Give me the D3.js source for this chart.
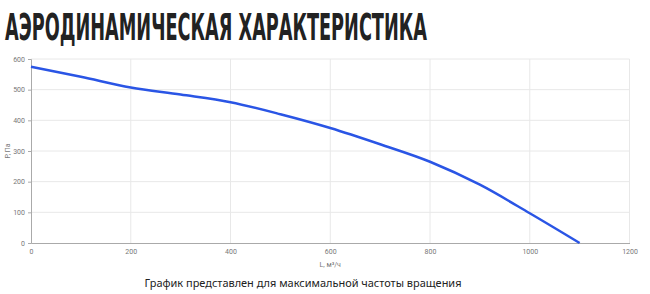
<!DOCTYPE html>
<html>
<head>
<meta charset="utf-8">
<script src="https://cdn.jsdelivr.net/npm/d3@7"></script>
<style>
  body { margin: 0; background: #fff; }
  svg { display: block; }
</style>
</head>
<body>
<svg id="chart" width="650" height="294"></svg>
<script>
// flow (m3/h) vs pressure (Pa)
const flow = [0, 100, 200, 300, 400, 500, 600, 700, 800, 900, 1000, 1100];
const pressure = [575, 542, 507, 484, 459, 420, 375, 322, 265, 190, 97, 0];
const xTicks = [0, 200, 400, 600, 800, 1000, 1200];
const yTicks = [0, 100, 200, 300, 400, 500, 600];

const svg = d3.select("#chart");
const margin = { left: 31, right: 20, top: 59, bottom: 51 };
const width = 650, height = 294;

const x = d3.scaleLinear().domain([0, 1200]).range([margin.left, width - margin.right - 0.5]);
const y = d3.scaleLinear().domain([0, 600]).range([height - margin.bottom, margin.top]);

// title, squeezed horizontally to the reference width
const title = svg.append("text")
    .attr("x", 0)
    .attr("y", 0)
    .style("font-family", "'Liberation Sans Narrow', 'DejaVu Sans Condensed', sans-serif")
    .style("font-weight", "bold")
    .style("font-size", "37px")
    .attr("fill", "#222")
    .text("АЭРОДИНАМИЧЕСКАЯ ХАРАКТЕРИСТИКА");
const tw = title.node().getComputedTextLength();
title.attr("transform", `translate(5,40) scale(${422 / tw},1)`);

// grid
svg.append("g").selectAll("line")
    .data(yTicks.slice(1))
    .join("line")
    .attr("x1", x(0)).attr("x2", x(1200))
    .attr("y1", d => y(d)).attr("y2", d => y(d))
    .attr("stroke", "#e8e8e8");

svg.append("g").selectAll("line")
    .data(xTicks.slice(1))
    .join("line")
    .attr("x1", d => x(d)).attr("x2", d => x(d))
    .attr("y1", y(0)).attr("y2", y(600))
    .attr("stroke", "#e8e8e8");

// axes
const xAxis = svg.append("g")
    .attr("transform", `translate(0,${y(0)})`)
    .call(d3.axisBottom(x).tickValues(xTicks).tickFormat(d3.format("d")).tickSize(0).tickPadding(6));
const yAxis = svg.append("g")
    .attr("transform", `translate(${x(0)},0)`)
    .call(d3.axisLeft(y).tickValues(yTicks).tickFormat(d3.format("d")).tickSize(3).tickPadding(3));

[xAxis, yAxis].forEach(g => {
    g.select(".domain").attr("stroke", "#aaa");
    g.selectAll(".tick line").attr("stroke", "#aaa");
    g.selectAll("text")
        .attr("fill", "#777")
        .style("font-family", "Roboto, sans-serif")
        .style("font-size", "7px");
});

// axis titles
svg.append("text")
    .attr("transform", `translate(10,${(y(0) + y(600)) / 2}) rotate(-90)`)
    .attr("text-anchor", "middle")
    .attr("fill", "#777")
    .style("font-family", "Roboto, sans-serif")
    .style("font-size", "7px")
    .text("P, Па");

svg.append("text")
    .attr("x", (x(0) + x(1200)) / 2)
    .attr("y", 267)
    .attr("text-anchor", "middle")
    .attr("fill", "#777")
    .style("font-family", "Roboto, sans-serif")
    .style("font-size", "7px")
    .text("L, м³/ч");

// curve
const line = d3.line()
    .x((d, i) => x(flow[i]))
    .y(d => y(d))
    .curve(d3.curveMonotoneX);

svg.append("path")
    .datum(pressure)
    .attr("d", line)
    .attr("fill", "none")
    .attr("stroke", "#2a55e5")
    .attr("stroke-width", 2.5);

// caption
svg.append("text")
    .attr("x", 303)
    .attr("y", 287)
    .attr("text-anchor", "middle")
    .attr("textLength", 317)
    .attr("lengthAdjust", "spacingAndGlyphs")
    .attr("fill", "#222")
    .style("font-family", "'Noto Sans', sans-serif")
    .style("font-size", "10px")
    .text("График представлен для максимальной частоты вращения");
</script>
</body>
</html>
